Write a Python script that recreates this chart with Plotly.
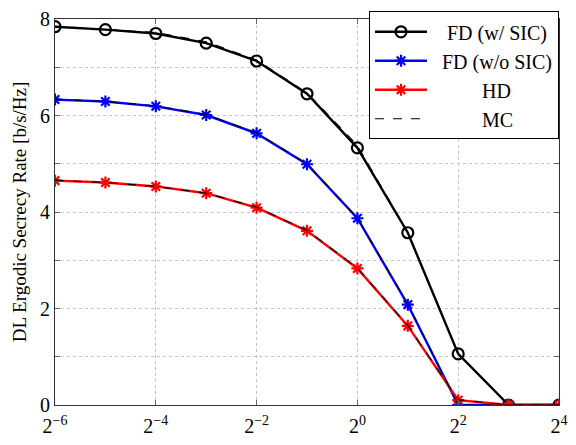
import plotly.graph_objects as go

# SNR exponents (x = 2**exp)
snr_exp = [-6, -5, -4, -3, -2, -1, 0, 1, 2, 3, 4]

# Analytical ergodic secrecy rates [b/s/Hz]
fd_sic = [7.84, 7.78, 7.70, 7.50, 7.13, 6.45, 5.33, 3.57, 1.06, 0.0, 0.0]
fd_nosic = [6.33, 6.29, 6.19, 6.01, 5.63, 4.99, 3.87, 2.08, 0.0, 0.0, 0.0]
hd = [4.65, 4.61, 4.53, 4.39, 4.09, 3.61, 2.83, 1.64, 0.10, 0.0, 0.0]

# Monte Carlo simulation results
mc_fd_sic = [7.85, 7.79, 7.72, 7.53, 7.15, 6.47, 5.38, 3.58, 1.06, 0.0, 0.0]
mc_fd_nosic = [6.34, 6.29, 6.20, 6.02, 5.64, 5.00, 3.88, 2.09, 0.0, 0.0, 0.0]
mc_hd = [4.66, 4.61, 4.53, 4.39, 4.10, 3.62, 2.84, 1.65, 0.11, 0.0, 0.0]

tick_exp = [-6, -4, -2, 0, 2, 4]
y_ticks = [0, 2, 4, 6, 8]

x = [2.0 ** e for e in snr_exp]
FONT = "Liberation Serif"
GRID = "#c4c4c4"

fig = go.Figure()

fig.add_trace(go.Scatter(
    x=x, y=fd_sic, mode="lines+markers", name="   FD (w/ SIC)",
    line=dict(color="black", width=2.4),
    marker=dict(symbol="circle-open", size=11, color="black", line=dict(width=2.2)),
))
fig.add_trace(go.Scatter(
    x=x, y=fd_nosic, mode="lines+markers", name="  FD (w/o SIC)",
    line=dict(color="#0000ff", width=2.4),
    marker=dict(symbol="asterisk-open", size=10, color="#0000ff", line=dict(width=2.2, color="#0000ff")),
))
fig.add_trace(go.Scatter(
    x=x, y=hd, mode="lines+markers", name="          HD",
    line=dict(color="#ff0000", width=2.4),
    marker=dict(symbol="asterisk-open", size=10, color="#ff0000", line=dict(width=2.2, color="#ff0000")),
))
for i, ys in enumerate([mc_fd_sic, mc_fd_nosic, mc_hd]):
    fig.add_trace(go.Scatter(
        x=x, y=ys, mode="lines", name="          MC",
        line=dict(color="black", width=1.1, dash="dash"),
        showlegend=(i == 0),
    ))

fig.update_layout(
    width=576, height=445,
    margin=dict(l=55, r=8, t=8, b=38),
    paper_bgcolor="white", plot_bgcolor="white",
    font=dict(family=FONT, size=19, color="black"),
    showlegend=True,
    legend=dict(
        x=1.0, y=1.02, xanchor="right", yanchor="top",
        bordercolor="black", borderwidth=1, bgcolor="white",
        font=dict(family=FONT, size=20), itemwidth=52,
        tracegroupgap=0,
    ),
    xaxis=dict(
        type="log",
        range=[snr_exp[0] * 0.30103, snr_exp[-1] * 0.30103],
        tickvals=[2.0 ** e for e in tick_exp],
        ticktext=[f"2<sup>{'−' if e < 0 else ''}{abs(e)}</sup>" for e in tick_exp],
        ticklabeloverflow="allow", ticklabelstandoff=3,
        showgrid=True, gridcolor=GRID, griddash="dot", gridwidth=1,
        showline=True, linecolor="#333", linewidth=1.2, mirror="ticks",
        ticks="inside", ticklen=5, tickcolor="#666", zeroline=False,
        tickfont=dict(family=FONT, size=20),
    ),
    yaxis=dict(
        range=[0, 8.0001],
        tickvals=y_ticks,
        ticklabeloverflow="allow",
        title=dict(text="DL Ergodic Secrecy Rate [b/s/Hz]", font=dict(family=FONT, size=19), standoff=8),
        showgrid=True, gridcolor=GRID, griddash="dot", gridwidth=1,
        showline=True, linecolor="#333", linewidth=1.2, mirror="ticks",
        ticks="inside", ticklen=5, tickcolor="#666", zeroline=False,
        minor=dict(dtick=1, showgrid=True, gridcolor=GRID, griddash="dot",
                   ticks="inside", ticklen=5, tickcolor="#666"),
        tickfont=dict(family=FONT, size=20),
    ),
)

fig.write_html("out.html")
